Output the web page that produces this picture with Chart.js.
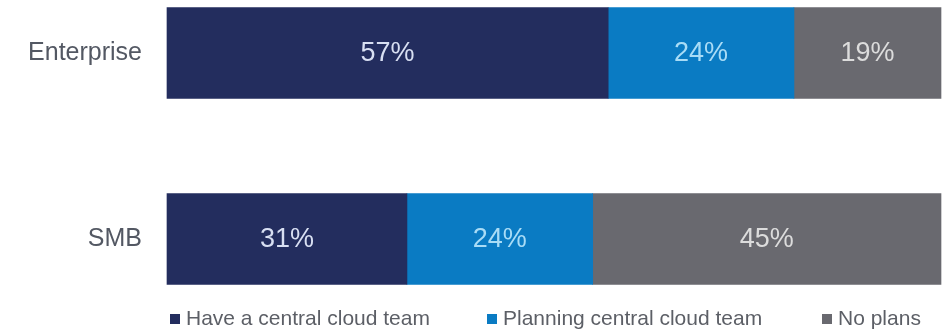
<!DOCTYPE html>
<html>
<head>
<meta charset="utf-8">
<script src="https://cdn.jsdelivr.net/npm/chart.js@4/dist/chart.umd.min.js"></script>
<style>
  html, body { margin: 0; padding: 0; background: #fff; }
  #wrap { position: relative; width: 946px; height: 331px; }
  #legend { position: absolute; left: 0; top: 306px; width: 946px; height: 24px;
    font-family: "Liberation Sans", Arial, sans-serif; font-size: 21px; color: #5c5f66; }
  .item { position: absolute; top: 0; white-space: nowrap; line-height: 24px; }
  .box { display: inline-block; width: 10px; height: 10px; margin-right: 6px; vertical-align: 1px; }
</style>
</head>
<body>
<div id="wrap">
  <canvas id="chart" width="946" height="331"></canvas>
  <div id="legend"></div>
</div>
<script>
const categories = ["Enterprise", "SMB"];
const seriesNames = ["Have a central cloud team", "Planning central cloud team", "No plans"];
const haveTeam = [57, 31];
const planningTeam = [24, 24];
const noPlans = [19, 45];

const barColors = ["#232d5e", "#0a7bc3", "#69696f"];
const labelColors = ["#d8dff2", "#a9dcf6", "#dcdcdc"];
const legendX = [170, 487, 822];

// Prozentwerte mittig in die Balken schreiben
const barLabels = {
  id: "barLabels",
  afterDatasetsDraw(chart) {
    const ctx = chart.ctx;
    ctx.save();
    ctx.font = "27px 'Liberation Sans', Arial, sans-serif";
    ctx.textAlign = "center";
    ctx.textBaseline = "middle";
    chart.data.datasets.forEach((ds, i) => {
      chart.getDatasetMeta(i).data.forEach((bar, j) => {
        ctx.fillStyle = labelColors[i];
        ctx.fillText(ds.data[j] + "%", (bar.x + bar.base) / 2, bar.y + 1);
      });
    });
    ctx.restore();
  }
};

new Chart(document.getElementById("chart"), {
  type: "bar",
  data: {
    labels: categories,
    datasets: [haveTeam, planningTeam, noPlans].map((d, i) => ({
      label: seriesNames[i],
      data: d,
      backgroundColor: barColors[i],
      barThickness: 91,
      clip: false
    }))
  },
  options: {
    indexAxis: "y",
    responsive: false,
    animation: false,
    layout: { padding: { top: 53, bottom: 92, left: 0, right: 5 } },
    plugins: { legend: { display: false }, tooltip: { enabled: false } },
    scales: {
      x: { stacked: true, min: 0, max: 100, display: false },
      y: {
        stacked: true,
        offset: false,
        border: { display: false },
        grid: { display: false, drawTicks: false },
        ticks: {
          padding: 25,
          color: "#535863",
          font: { family: "'Liberation Sans', Arial, sans-serif", size: 25 }
        },
        afterFit: s => { s.width = 167; }
      }
    }
  },
  plugins: [barLabels]
});

// Legende
const legend = document.getElementById("legend");
seriesNames.forEach((name, i) => {
  const el = document.createElement("div");
  el.className = "item";
  el.style.left = legendX[i] + "px";
  el.innerHTML = `<span class="box" style="background:${barColors[i]}"></span>${name}`;
  legend.appendChild(el);
});
</script>
</body>
</html>
